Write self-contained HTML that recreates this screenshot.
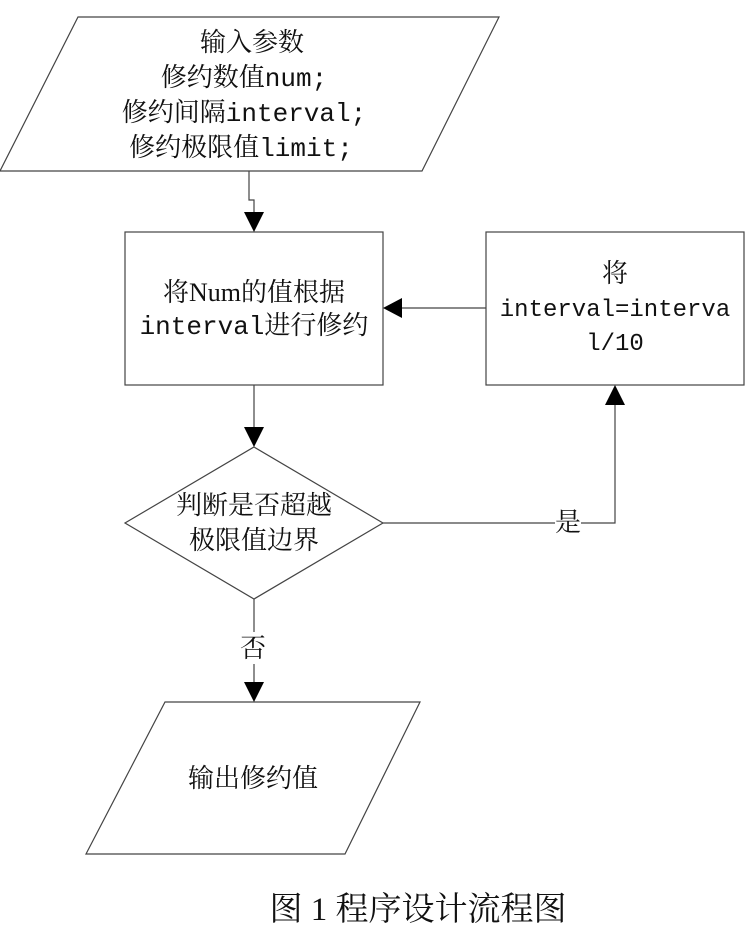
<!DOCTYPE html>
<html><head><meta charset="utf-8"><style>
html,body{margin:0;padding:0;background:#fff;}
svg{display:block;}
text{font-family:"Liberation Serif","Noto Serif CJK SC","Noto Sans CJK SC",serif;fill:#111;}
.m{font-family:"Liberation Mono","Noto Sans CJK SC",monospace;}
</style></head><body>
<svg width="752" height="929" viewBox="0 0 752 929" xmlns="http://www.w3.org/2000/svg">
<g fill="none" stroke="#444" stroke-width="1.2">
<polygon points="78,17 499,17 422,171 0,171"/>
<rect x="125" y="232" width="258" height="153"/>
<rect x="486" y="232" width="258" height="153"/>
<polygon points="254,447 383,523 254,599 125,523"/>
<polygon points="165,702 420,702 345,854 86,854"/>
<polyline points="249,171 249,200 254,200 254,214"/>
<line x1="486" y1="308" x2="400" y2="308"/>
<line x1="254" y1="385" x2="254" y2="429"/>
<polyline points="383,523 615,523 615,403"/>
<line x1="254" y1="599" x2="254" y2="684"/>
</g>
<g fill="#000">
<polygon points="244,212 264,212 254,232"/>
<polygon points="402,298 402,318 383,308"/>
<polygon points="244,427 264,427 254,447"/>
<polygon points="605,405 625,405 615,385"/>
<polygon points="244,682 264,682 254,702"/>
</g>
<rect x="555" y="508" width="26" height="30" fill="#fff"/>
<rect x="240" y="632" width="28" height="32" fill="#fff"/>
<g font-size="26" text-anchor="middle">
<text x="252" y="51">输入参数</text>
<text x="244" y="86">修约数值<tspan class="m">num;</tspan></text>
<text x="244" y="121">修约间隔<tspan class="m">interval;</tspan></text>
<text x="241" y="156">修约极限值<tspan class="m">limit;</tspan></text>
<text x="254" y="301">将Num的值根据</text>
<text x="254" y="334"><tspan class="m">interval</tspan>进行修约</text>
<text x="615" y="282">将</text>
<text x="254" y="514">判断是否超越</text>
<text x="254" y="549">极限值边界</text>
<text x="568" y="531">是</text>
<text x="253" y="657">否</text>
<text x="253" y="787">输出修约值</text>
</g>
<g font-size="24" text-anchor="middle" class="m">
<text class="m" x="615" y="316">interval=interva</text>
<text class="m" x="615" y="350">l/10</text>
</g>
<text x="418" y="920" font-size="33" text-anchor="middle">图 1 程序设计流程图</text>
</svg>
</body></html>
